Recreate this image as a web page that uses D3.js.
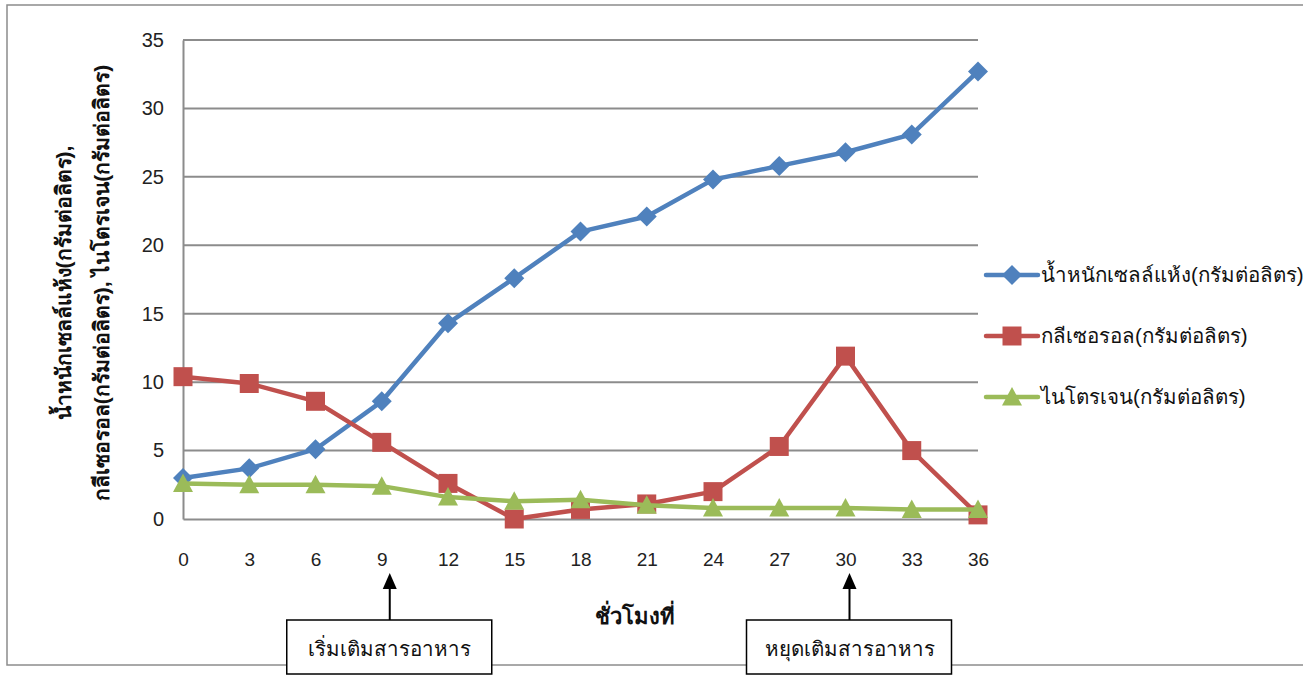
<!DOCTYPE html>
<html>
<head>
<meta charset="utf-8">
<script src="https://cdn.jsdelivr.net/npm/d3@7"></script>
<style>
  html, body { margin: 0; padding: 0; background: #fff; }
  svg { display: block; }
  text { font-family: Arial, "Liberation Sans", "Noto Sans", sans-serif; }
</style>
</head>
<body>
<svg id="chart" width="1303" height="675"></svg>
<script>
// Fermentation time (hours)
const hours = [0, 3, 6, 9, 12, 15, 18, 21, 24, 27, 30, 33, 36];
// Dry cell weight (g/L)
const dryCellWeight = [3.0, 3.7, 5.1, 8.6, 14.3, 17.6, 21.0, 22.1, 24.8, 25.8, 26.8, 28.1, 32.7];
// Glycerol (g/L)
const glycerol = [10.4, 9.9, 8.6, 5.6, 2.6, 0.0, 0.7, 1.1, 2.0, 5.3, 11.9, 5.0, 0.3];
// Nitrogen (g/L)
const nitrogen = [2.6, 2.5, 2.5, 2.4, 1.6, 1.3, 1.4, 1.0, 0.8, 0.8, 0.8, 0.7, 0.7];
const yTicks = [0, 5, 10, 15, 20, 25, 30, 35];

const seriesNames = ["น้ำหนักเซลล์แห้ง(กรัมต่อลิตร)", "กลีเซอรอล(กรัมต่อลิตร)", "ไนโตรเจน(กรัมต่อลิตร)"];
const seriesColors = ["#4F81BD", "#C0504D", "#9BBB59"];
const seriesShapes = ["diamond", "square", "triangle"];
const seriesValues = [dryCellWeight, glycerol, nitrogen];

const annotations = [
  { hour: 9, text: "เริ่มเติมสารอาหาร" },
  { hour: 30, text: "หยุดเติมสารอาหาร" }
];

const svg = d3.select("#chart");

// outer frame
svg.append("rect")
  .attr("x", 7).attr("y", 5).attr("width", 1310).attr("height", 660)
  .attr("fill", "none").attr("stroke", "#8c8c8c").attr("stroke-width", 1.5);

const plot = { left: 183, right: 978, top: 40, bottom: 519 };

const x = d3.scaleLinear().domain([0, 36]).range([plot.left, plot.right]);
const y = d3.scaleLinear().domain([0, 35]).range([plot.bottom, plot.top]);

// horizontal gridlines
svg.append("g")
  .selectAll("line")
  .data(yTicks.filter(t => t > 0))
  .join("line")
  .attr("x1", plot.left).attr("x2", plot.right)
  .attr("y1", d => y(d)).attr("y2", d => y(d))
  .attr("stroke", "#8c8c8c").attr("stroke-width", 2);

// y axis
const yAxis = svg.append("g")
  .attr("transform", `translate(${plot.left},0)`)
  .call(d3.axisLeft(y).tickValues(yTicks).tickSize(0).tickPadding(19));
yAxis.select(".domain").attr("stroke", "#8c8c8c").attr("stroke-width", 2);
yAxis.selectAll("text")
  .attr("font-size", 20).attr("fill", "#222")
  .style("font-family", "Arial, 'Liberation Sans', sans-serif");

// x axis
const xAxis = svg.append("g")
  .attr("transform", `translate(0,${plot.bottom})`)
  .call(d3.axisBottom(x).tickValues(hours).tickFormat(d3.format("d")).tickSize(0).tickPadding(34));
xAxis.select(".domain").attr("stroke", "#8c8c8c").attr("stroke-width", 2);
xAxis.selectAll("text")
  .attr("font-size", 19).attr("fill", "#222")
  .style("font-family", "Arial, 'Liberation Sans', sans-serif");

// x axis title
svg.append("text")
  .attr("x", 635).attr("y", 624)
  .attr("text-anchor", "middle")
  .attr("font-size", 22).attr("font-weight", "bold").attr("fill", "#111")
  .text("ชั่วโมงที่");

// y axis title (two lines, rotated)
const yTitle = svg.append("text")
  .attr("transform", "translate(71,283) rotate(-90)")
  .attr("text-anchor", "middle")
  .attr("font-size", 21).attr("font-weight", "bold").attr("fill", "#111");
yTitle.append("tspan").attr("x", 0).attr("dy", 0).text("น้ำหนักเซลล์แห้ง(กรัมต่อลิตร),");
yTitle.append("tspan").attr("x", 0).attr("dy", 38).text("กลีเซอรอล(กรัมต่อลิตร), ไนโตรเจน(กรัมต่อลิตร)");

// marker drawing
function markerPath(shape, size) {
  const s = size / 2;
  if (shape === "diamond") return `M0,${-s}L${s},0L0,${s}L${-s},0Z`;
  if (shape === "square") return `M${-s},${-s}H${s}V${s}H${-s}Z`;
  return `M0,${-s}L${s},${s * 0.85}L${-s},${s * 0.85}Z`;
}
const markerSize = { diamond: 20, square: 19, triangle: 20 };

const line = d3.line().x(d => x(d[0])).y(d => y(d[1]));

seriesValues.forEach((vals, i) => {
  const pts = hours.map((h, j) => [h, vals[j]]);
  const g = svg.append("g");
  g.append("path")
    .attr("d", line(pts))
    .attr("fill", "none")
    .attr("stroke", seriesColors[i])
    .attr("stroke-width", 4.5)
    .attr("stroke-linejoin", "round")
    .attr("stroke-linecap", "round");
  g.selectAll("path.m")
    .data(pts)
    .join("path")
    .attr("class", "m")
    .attr("transform", d => `translate(${x(d[0])},${y(d[1])})`)
    .attr("d", markerPath(seriesShapes[i], markerSize[seriesShapes[i]]))
    .attr("fill", seriesColors[i]);
});

// legend
const legendY = [275, 336, 397];
const legend = svg.append("g");
seriesNames.forEach((name, i) => {
  const g = legend.append("g").attr("transform", `translate(0,${legendY[i]})`);
  g.append("line")
    .attr("x1", 986).attr("x2", 1038).attr("y1", 0).attr("y2", 0)
    .attr("stroke", seriesColors[i]).attr("stroke-width", 4.5).attr("stroke-linecap", "round");
  g.append("path")
    .attr("transform", "translate(1012,0)")
    .attr("d", markerPath(seriesShapes[i], markerSize[seriesShapes[i]]))
    .attr("fill", seriesColors[i]);
  g.append("text")
    .attr("x", 1041).attr("y", 0).attr("dy", "0.35em")
    .attr("font-size", 20.5).attr("fill", "#111")
    .text(name);
});

// feeding annotations: arrow + boxed label
const annoOffset = { 9: 8, 30: 4 };
annotations.forEach(a => {
  const ax = x(a.hour) + annoOffset[a.hour];
  const g = svg.append("g");
  g.append("line")
    .attr("x1", ax).attr("x2", ax).attr("y1", 620).attr("y2", 588)
    .attr("stroke", "#000").attr("stroke-width", 2);
  g.append("path")
    .attr("d", `M${ax},573L${ax + 7},589L${ax - 7},589Z`)
    .attr("fill", "#000");
  g.append("rect")
    .attr("x", ax - 103).attr("y", 620).attr("width", 205).attr("height", 54)
    .attr("fill", "#fff").attr("stroke", "#000").attr("stroke-width", 1.5);
  g.append("text")
    .attr("x", ax).attr("y", 656)
    .attr("text-anchor", "middle")
    .attr("font-size", 20.5).attr("fill", "#111")
    .text(a.text);
});
</script>
</body>
</html>
